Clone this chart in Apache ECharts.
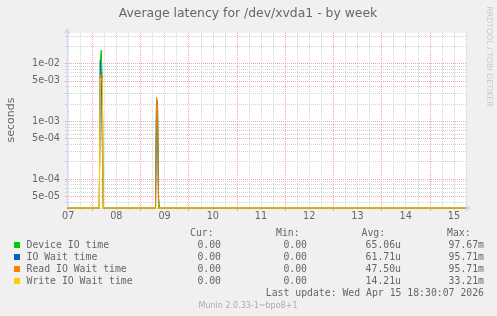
<!DOCTYPE html>
<html><head><meta charset="utf-8">
<script src="https://cdn.jsdelivr.net/npm/echarts@6/dist/echarts.min.js"></script>
<style>html,body{margin:0;padding:0;background:#f0f0f0;}#c{width:497px;height:316px;}</style>
</head><body><div id="c"></div>
<script>
const chartTitle = 'Average latency for /dev/xvda1 - by week';
const yAxisName = 'seconds';
// time in hours since 2026-04-07 00:00 (30-minute samples)
const times    = [11.5, 27.5, 28.0,   28.5,   29.0,   29.5, 55.5, 56.0,   56.5,   57.0,    57.5, 210];
const deviceIO = [0,    0,    0.0115, 0.017,  0.005,  0,    0,    0.0024, 0.0021, 0.00005, 0,    0];
const ioWait   = [0,    0,    0.0114, 0.0062, 0.0062, 0,    0,    0.0025, 0.0018, 0,       0,    0];
const readWait = [0,    0,    0.0062, 0.006,  0.0062, 0,    0,    0.0026, 0.0017, 0,       0,    0];
const writeWait= [0,    0,    0.0055, 0.0058, 0.0055, 0,    0,    0,      0,      0,       0,    0];
const seriesNames  = ['Device IO time', 'IO Wait time', 'Read IO Wait time', 'Write IO Wait time'];
const seriesColors = ['#00CC00', '#0066B3', '#FF8000', '#FFCC00'];
const curVals = ['0.00', '0.00', '0.00', '0.00'];
const minVals = ['0.00', '0.00', '0.00', '0.00'];
const avgVals = ['65.06u', '61.71u', '47.50u', '14.21u'];
const maxVals = ['97.67m', '95.71m', '95.71m', '33.21m'];
const xTickLabels = ['07', '08', '09', '10', '11', '12', '13', '14', '15'];
const xLabelHours = [12, 36, 60, 84, 108, 132, 156, 180, 204];
const xMajorHours = [24, 48, 72, 96, 120, 144, 168, 192];
const yTickLabels = ['1e-02', '5e-03', '1e-03', '5e-04', '1e-04', '5e-05'];
const yTickValues = [1e-2, 5e-3, 1e-3, 5e-4, 1e-4, 5e-5];
const lastUpdate = 'Last update: Wed Apr 15 18:30:07 2026';
const versionText = 'Munin 2.0.33-1~bpo8+1';
const watermark = 'RRDTOOL / TOBI OETIKER';

const X_MIN = 11.44, X_MAX = 210.0;
const Y_MIN = -4.5, Y_MAX = -1.472;
const tr = v => (v > 0 ? Math.max(Math.log10(v), Y_MIN) : Y_MIN);

const yMajor = yTickValues.map(v => Math.log10(v));
const yMinor = [];
for (let n = -5; n <= -1; n++) for (const k of [2, 3, 4, 6, 7, 8, 9]) {
  const l = Math.log10(k * Math.pow(10, n));
  if (l > Y_MIN && l < Y_MAX) yMinor.push(l);
}
const xMinor = [];
for (let h = 12; h <= X_MAX; h += 6) if (h % 24 !== 0) xMinor.push(h);

const FONT = '#666666';
const MINOR = '#d2d2d2', MAJOR = '#f0a6a6', AXIS = '#CFD6F8';

const allData = [deviceIO, ioWait, readWait, writeWait];
const series = allData.map((vals, i) => ({
  type: 'line', name: seriesNames[i], xAxisIndex: 0, yAxisIndex: 0,
  data: times.map((t, j) => [t, tr(vals[j])]),
  showSymbol: false, symbol: 'none', clip: false,
  lineStyle: { width: 1, color: seriesColors[i] }, itemStyle: { color: seriesColors[i] },
  animation: false, z: 3
}));

const graphic = [];
const txt = (text, x, y, opts) => graphic.push(Object.assign({
  type: 'text', x: x, y: y, silent: true,
  style: Object.assign({ text: text, fill: FONT, font: '9.8px "DejaVu Sans Mono"', textAlign: 'left', textVerticalAlign: 'middle' }, opts || {})
}));
graphic.push({ type: 'text', x: 248, y: 14, silent: true,
  style: { text: chartTitle, fill: FONT, font: '12.4px "DejaVu Sans"', textAlign: 'center', textVerticalAlign: 'middle' } });
graphic.push({ type: 'text', x: 11, y: 120, rotation: Math.PI / 2, silent: true,
  style: { text: yAxisName, fill: FONT, font: '11px "DejaVu Sans"', textAlign: 'center', textVerticalAlign: 'middle' } });
graphic.push({ type: 'text', x: 489, y: 56.5, rotation: -Math.PI / 2, silent: true,
  style: { text: watermark, fill: '#c8c8c8', font: '7.8px "DejaVu Sans"', textAlign: 'center', textVerticalAlign: 'middle' } });
txt('Cur:', 190, 233.7); txt('Min:', 276, 233.7); txt('Avg:', 361.5, 233.7); txt('Max:', 447, 233.7);
const rowY = [245.5, 257.5, 269.5, 281.5];
seriesNames.forEach((n, i) => {
  graphic.push({ type: 'rect', silent: true, shape: { x: 14, y: rowY[i] - 3.5, width: 6, height: 6 }, style: { fill: seriesColors[i] } });
  txt(n, 26.5, rowY[i]);
  txt(curVals[i], 221, rowY[i], { textAlign: 'right' });
  txt(minVals[i], 307, rowY[i], { textAlign: 'right' });
  txt(avgVals[i], 401, rowY[i], { textAlign: 'right' });
  txt(maxVals[i], 484, rowY[i], { textAlign: 'right' });
});
txt(lastUpdate, 484, 293.7, { textAlign: 'right' });
graphic.push({ type: 'text', x: 248, y: 305.7, silent: true,
  style: { text: versionText, fill: '#ababab', font: '8px "DejaVu Sans"', textAlign: 'center', textVerticalAlign: 'middle' } });

const nearestLabel = (v, vals, labels) => {
  let bi = 0; vals.forEach((x, i) => { if (Math.abs(x - v) < Math.abs(vals[bi] - v)) bi = i; });
  return labels[bi];
};

const option = {
  backgroundColor: '#f0f0f0',
  animation: false,
  grid: { left: 67, top: 33, width: 399, height: 175, backgroundColor: '#ffffff', show: true, borderWidth: 0, outerBoundsMode: 'none', containLabel: false },
  xAxis: [
    { type: 'value', position: 'bottom', min: X_MIN, max: X_MAX, z: 1,
      axisLine: { show: true, onZero: false, lineStyle: { color: AXIS, width: 1 }, symbol: ['none', 'arrow'], symbolSize: [6, 6], symbolOffset: [0, 5] },
      axisTick: { show: true, customValues: xMajorHours, length: 3, lineStyle: { color: MAJOR } },
      axisLabel: { show: true, customValues: xLabelHours, margin: 3, color: FONT, fontFamily: 'DejaVu Sans', fontSize: 9.7,
        formatter: v => nearestLabel(v, xLabelHours, xTickLabels) },
      splitLine: { show: true, lineStyle: { color: MAJOR, type: [1, 1], width: 1 } } },
    { type: 'value', position: 'bottom', min: X_MIN, max: X_MAX, z: 0,
      axisLine: { show: false, onZero: false },
      axisTick: { show: true, customValues: xMinor, length: 2, lineStyle: { color: MINOR } },
      axisLabel: { show: false },
      splitLine: { show: true, lineStyle: { color: MINOR, type: [1, 1], width: 1 } } }
  ],
  yAxis: [
    { type: 'value', position: 'left', min: Y_MIN, max: Y_MAX, z: 1,
      axisLine: { show: true, onZero: false, lineStyle: { color: AXIS, width: 1 }, symbol: ['none', 'arrow'], symbolSize: [6, 6], symbolOffset: [0, 5] },
      axisTick: { show: true, customValues: yMajor, length: 2, lineStyle: { color: MAJOR } },
      axisLabel: { show: true, customValues: yMajor, margin: 7, color: FONT, fontFamily: 'DejaVu Sans', fontSize: 9.7,
        formatter: v => nearestLabel(v, yMajor, yTickLabels) },
      splitLine: { show: true, lineStyle: { color: MAJOR, type: [1, 1], width: 1 } } },
    { type: 'value', position: 'left', min: Y_MIN, max: Y_MAX, z: 0,
      axisLine: { show: false, onZero: false },
      axisTick: { show: true, customValues: yMinor, length: 2, lineStyle: { color: MINOR } },
      axisLabel: { show: false },
      splitLine: { show: true, lineStyle: { color: MINOR, type: [1, 1], width: 1 } } }
  ],
  series: series,
  graphic: graphic
};
const chart = echarts.init(document.getElementById('c'), null, { renderer: 'canvas' });
chart.setOption(option);
</script></body></html>
